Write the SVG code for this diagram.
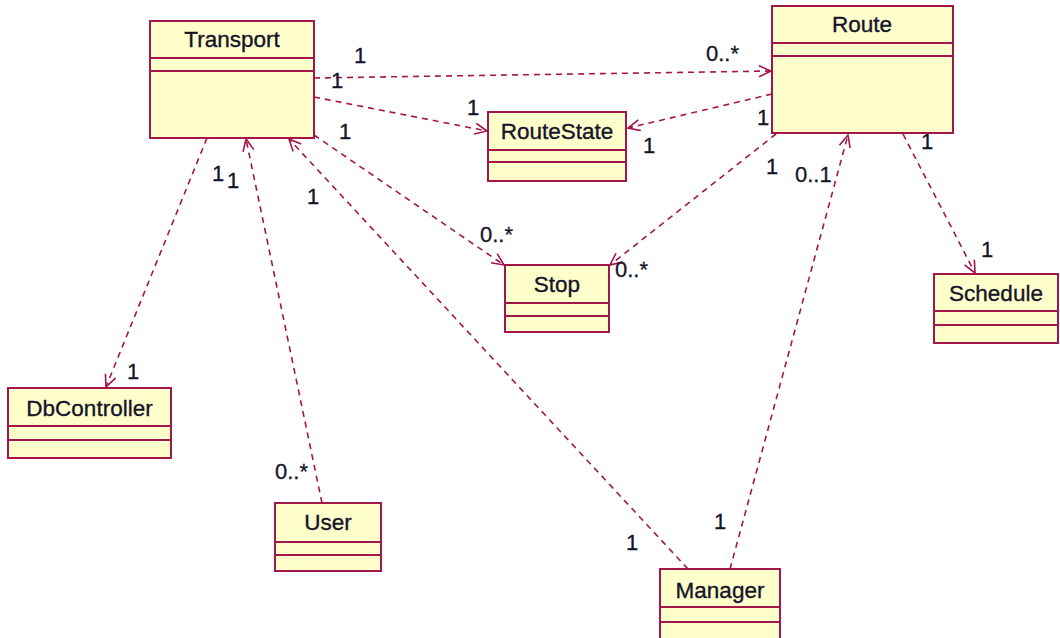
<svg xmlns="http://www.w3.org/2000/svg" width="1060" height="638" viewBox="0 0 1060 638">
  <style>
    .box { fill: #FFFFCC; stroke: #A3164A; stroke-width: 2; }
    .sep { stroke: #A3164A; stroke-width: 2; }
    .title { font-family: "Liberation Sans", Arial, sans-serif; font-size: 22.5px; fill: #14142a; stroke: #14142a; stroke-width: 0.35; text-anchor: middle; }
    .dep { fill: none; stroke: #A3164A; stroke-width: 1.6; stroke-dasharray: 6 5; marker-end: url(#open); }
    .mult { font-family: "Liberation Sans", Arial, sans-serif; font-size: 22px; fill: #14142a; stroke: #14142a; stroke-width: 0.3; }
  </style>
  <defs>
    <marker id="open" markerUnits="userSpaceOnUse" markerWidth="16" markerHeight="14" refX="13" refY="6" orient="auto">
      <path d="M1,0.5 L13,6 L1,11.5" fill="none" stroke="#A3164A" stroke-width="1.6"/>
    </marker>
  </defs>
  <rect width="1060" height="638" fill="#ffffff"/>

  <!-- dependency connectors -->
  <g id="connectors">
    <path class="dep" d="M314,78 L771,71"/>
    <path class="dep" d="M314,97 L487,131"/>
    <path class="dep" d="M772,94 L628,128"/>
    <path class="dep" d="M314,135 L504,265"/>
    <path class="dep" d="M776,134 L610,265"/>
    <path class="dep" d="M903,134 L975,273"/>
    <path class="dep" d="M730,569 L848,135"/>
    <path class="dep" d="M688,569 L289,139"/>
    <path class="dep" d="M322,503 L246,139"/>
    <path class="dep" d="M207,138 L106,387"/>

    <text class="mult" x="354" y="63">1</text>
    <text class="mult" x="331" y="88">1</text>
    <text class="mult" x="706" y="61">0..*</text>
    <text class="mult" x="467" y="115">1</text>
    <text class="mult" x="757" y="125">1</text>
    <text class="mult" x="643" y="153">1</text>
    <text class="mult" x="339" y="139">1</text>
    <text class="mult" x="480" y="242">0..*</text>
    <text class="mult" x="766" y="174">1</text>
    <text class="mult" x="615" y="277">0..*</text>
    <text class="mult" x="921" y="149">1</text>
    <text class="mult" x="981" y="257">1</text>
    <text class="mult" x="714" y="529">1</text>
    <text class="mult" x="795" y="182">0..1</text>
    <text class="mult" x="626" y="550">1</text>
    <text class="mult" x="307" y="204">1</text>
    <text class="mult" x="275" y="479">0..*</text>
    <text class="mult" x="227" y="188">1</text>
    <text class="mult" x="212" y="181">1</text>
    <text class="mult" x="127" y="379">1</text>
  </g>

  <g id="Transport">
    <rect class="box" x="150" y="21" width="164" height="117"/>
    <line class="sep" x1="150" y1="58" x2="314" y2="58"/>
    <line class="sep" x1="150" y1="71" x2="314" y2="71"/>
    <text class="title" x="232" y="47">Transport</text>
  </g>

  <g id="Route">
    <rect class="box" x="772" y="6" width="181" height="127"/>
    <line class="sep" x1="772" y1="43" x2="953" y2="43"/>
    <line class="sep" x1="772" y1="56" x2="953" y2="56"/>
    <text class="title" x="862" y="32">Route</text>
  </g>

  <g id="RouteState">
    <rect class="box" x="488" y="112" width="138" height="69"/>
    <line class="sep" x1="488" y1="150" x2="626" y2="150"/>
    <line class="sep" x1="488" y1="162" x2="626" y2="162"/>
    <text class="title" x="557" y="139">RouteState</text>
  </g>

  <g id="Stop">
    <rect class="box" x="505" y="265" width="104" height="67"/>
    <line class="sep" x1="505" y1="303" x2="609" y2="303"/>
    <line class="sep" x1="505" y1="316" x2="609" y2="316"/>
    <text class="title" x="557" y="292">Stop</text>
  </g>

  <g id="Schedule">
    <rect class="box" x="934" y="274" width="124" height="69"/>
    <line class="sep" x1="934" y1="311" x2="1058" y2="311"/>
    <line class="sep" x1="934" y1="325" x2="1058" y2="325"/>
    <text class="title" x="996" y="301">Schedule</text>
  </g>

  <g id="DbController">
    <rect class="box" x="8" y="388" width="163" height="70"/>
    <line class="sep" x1="8" y1="426" x2="171" y2="426"/>
    <line class="sep" x1="8" y1="440" x2="171" y2="440"/>
    <text class="title" x="89.5" y="416">DbController</text>
  </g>

  <g id="User">
    <rect class="box" x="275" y="503" width="106" height="68"/>
    <line class="sep" x1="275" y1="542" x2="381" y2="542"/>
    <line class="sep" x1="275" y1="555" x2="381" y2="555"/>
    <text class="title" x="328" y="530">User</text>
  </g>

  <g id="Manager">
    <rect class="box" x="660" y="569" width="120" height="80"/>
    <line class="sep" x1="660" y1="607" x2="780" y2="607"/>
    <line class="sep" x1="660" y1="622" x2="780" y2="622"/>
    <text class="title" x="720" y="598">Manager</text>
  </g>
</svg>
